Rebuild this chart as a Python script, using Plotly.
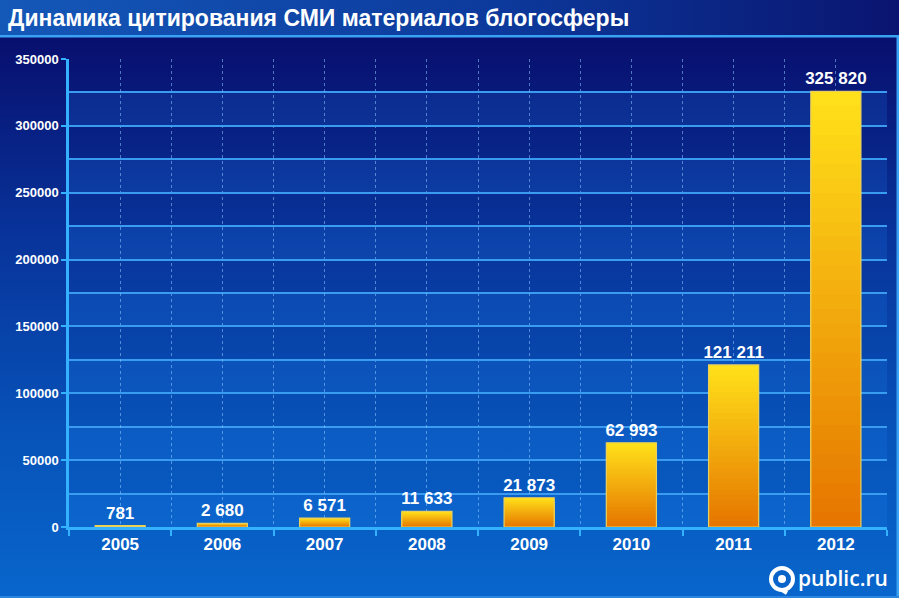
import base64
import plotly.graph_objects as go

# ---- data ----
years = ["2005", "2006", "2007", "2008", "2009", "2010", "2011", "2012"]
values = [781, 2680, 6571, 11633, 21873, 62993, 121211, 325820]
y_ticks = [0, 50000, 100000, 150000, 200000, 250000, 300000, 350000]
title_text = "Динамика цитирования СМИ материалов блогосферы"
logo_text = "public.ru"

W, H = 899, 598
L, R, T, B = 69, 12, 59, 71
PW, PH = W - L - R, H - T - B

def px(x):
    return (x - L) / PW

def py(y):
    return (H - B - y) / PH

labels = [f"{v:,}".replace(",", " ") for v in values]
xs = list(range(len(years)))

# background svg (gradients)
svg = f'''<svg xmlns="http://www.w3.org/2000/svg" width="{W}" height="{H}" viewBox="0 0 {W} {H}" preserveAspectRatio="none">
<defs>
<linearGradient id="tb" x1="0" y1="0" x2="1" y2="0">
<stop offset="0" stop-color="#1458b8"/><stop offset="0.55" stop-color="#0c3a9c"/><stop offset="1" stop-color="#0a1470"/>
</linearGradient>
<linearGradient id="bg" x1="0" y1="0" x2="0" y2="1">
<stop offset="0" stop-color="#080f6e"/><stop offset="0.35" stop-color="#08339a"/><stop offset="0.7" stop-color="#0752b8"/><stop offset="1" stop-color="#0866cc"/>
</linearGradient>
</defs>
<rect x="0" y="0" width="{W}" height="37" fill="url(#tb)"/>
<rect x="0" y="37" width="{W}" height="{H-37}" fill="url(#bg)"/>
<rect x="0" y="35" width="{W}" height="2.5" fill="#3aa2f2"/>
<rect x="{W-2.5}" y="36" width="2.5" height="{H-36}" fill="#3aa2f2"/>
<rect x="0" y="{H-2}" width="{W}" height="2" fill="#2a86e0"/>
</svg>'''
src = "data:image/svg+xml;base64," + base64.b64encode(svg.encode("utf-8")).decode()

fig = go.Figure()

# stepped gradient bars (top yellow -> bottom orange)
N = 30
c_top = (255, 224, 26)
c_bot = (230, 118, 0)
for k in range(N):
    t = k / (N - 1)
    col = tuple(round(c_top[i] + (c_bot[i] - c_top[i]) * t) for i in range(3))
    frac = (N - k) / N
    fig.add_trace(go.Bar(
        x=xs, y=[v * frac for v in values], width=0.49,
        marker=dict(color=f"rgb{col}", line=dict(width=0)),
        hoverinfo="skip", showlegend=False,
    ))

# outline + labels
fig.add_trace(go.Bar(
    x=xs, y=values, width=0.49,
    marker=dict(color="rgba(0,0,0,0)", line=dict(color="#e8d060", width=1.2)),
    text=labels, textposition="outside", constraintext="none",
    textfont=dict(family="Liberation Sans, Arial", size=17, color="white", weight="bold"),
    cliponaxis=False, showlegend=False,
))

shapes = []
# alternating lighter bands
for lo in range(0, 350000, 50000):
    shapes.append(dict(type="rect", xref="paper", yref="y", x0=0, x1=1, y0=lo, y1=lo + 25000,
                       fillcolor="rgba(40,140,255,0.16)", line=dict(width=0), layer="below"))

# logo icon
cx, cy, r = 782, 579, 11
shapes.append(dict(type="circle", xref="paper", yref="paper",
                   x0=px(cx - r), x1=px(cx + r), y0=py(cy + r), y1=py(cy - r),
                   line=dict(color="white", width=4), fillcolor="rgba(0,0,0,0)"))
shapes.append(dict(type="circle", xref="paper", yref="paper",
                   x0=px(cx - 4), x1=px(cx + 4), y0=py(cy + 4), y1=py(cy - 4),
                   line=dict(width=0), fillcolor="white"))
shapes.append(dict(type="line", xref="paper", yref="paper",
                   x0=px(cx), x1=px(cx + 5), y0=py(cy + r), y1=py(cy + r + 3),
                   line=dict(color="white", width=4)))

fig.update_layout(
    width=W, height=H,
    margin=dict(l=L, r=R, t=T, b=B),
    paper_bgcolor="#0a3a9c",
    plot_bgcolor="rgba(0,0,0,0)",
    barmode="overlay",
    bargap=0.5,
    showlegend=False,
    font=dict(family="Liberation Sans, Arial", color="white"),
    title=dict(text=title_text, x=0.009, xanchor="left", xref="container",
               y=1 - 18 / H, yanchor="middle", yref="container",
               font=dict(family="Liberation Sans, Arial", size=23, color="white", weight="bold")),
    images=[dict(source=src, xref="paper", yref="paper", x=px(0), y=py(0),
                 sizex=W / PW, sizey=H / PH, xanchor="left", yanchor="top",
                 sizing="stretch", layer="below")],
    shapes=shapes,
    annotations=[dict(text=logo_text, xref="paper", yref="paper", x=px(796), y=py(578),
                      xanchor="left", yanchor="middle", showarrow=False,
                      font=dict(family="Open Sans, Liberation Sans", size=21, color="white", weight=600))],
)

fig.update_xaxes(
    range=[-0.5, len(years) - 0.5],
    tickvals=xs, ticktext=years,
    tickfont=dict(size=17, color="white", weight="bold"),
    ticks="", showline=True, linecolor="#35b2ff", linewidth=2.5,
    showgrid=True, gridcolor="rgba(140,200,255,0.55)", griddash="dot", gridwidth=1,
    minor=dict(tick0=0.5, dtick=1, ticks="outside", ticklen=6, tickcolor="#35b2ff", tickwidth=2,
               showgrid=True, gridcolor="rgba(140,200,255,0.55)", griddash="dot", gridwidth=1),
    zeroline=False, fixedrange=True,
)
fig.update_yaxes(
    range=[0, 350000],
    tickvals=y_ticks, ticktext=[str(v) for v in y_ticks],
    tickfont=dict(size=13, color="white", weight="bold"),
    ticks="outside", ticklen=5, tickcolor="#35b2ff", tickwidth=2,
    ticklabelstandoff=0,
    showline=True, linecolor="#35b2ff", linewidth=2.5,
    showgrid=True, gridcolor="#3a9cf0", gridwidth=1.5,
    minor=dict(dtick=25000, showgrid=True, gridcolor="#3a9cf0", gridwidth=1.5, ticks=""),
    zeroline=False, fixedrange=True,
)

fig.write_html("out.html")
